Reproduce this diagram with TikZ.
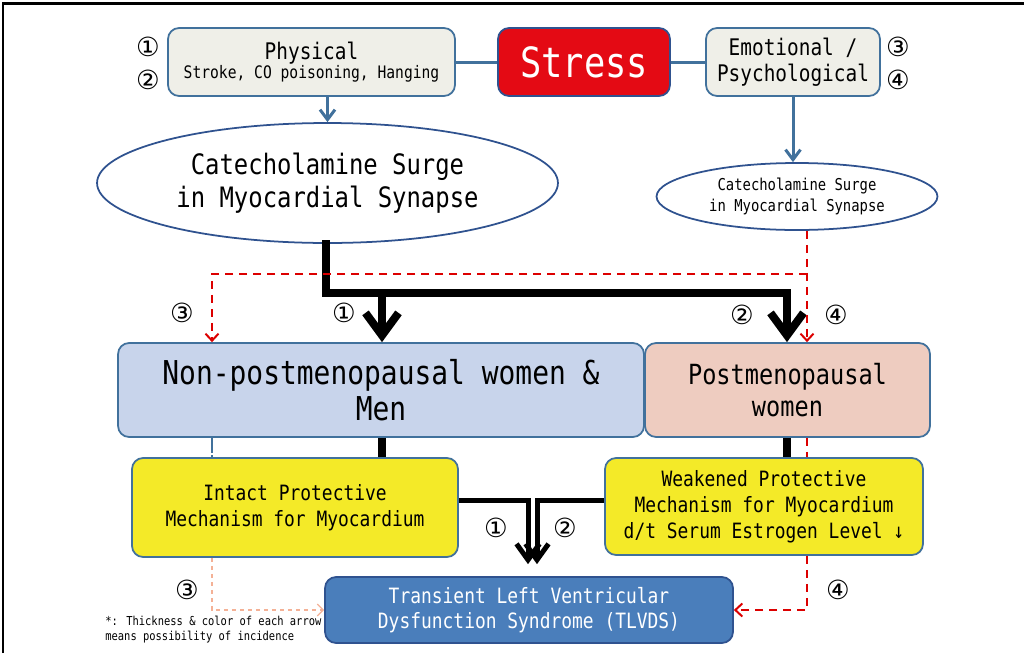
\documentclass[tikz,border=0pt]{standalone}
\usepackage{fontspec}
\usepackage{xcolor}
\usepackage{tikz}
\usetikzlibrary{shapes,arrows,positioning,calc,arrows.meta}

\newfontfamily\gothic[FakeStretch=0.85]{DejaVu Sans Mono}
\newfontfamily\circfont{DejaVu Sans}

\definecolor{boxline}{RGB}{65,113,156}
\definecolor{ellline}{RGB}{47,82,143}
\definecolor{greyfill}{RGB}{239,239,232}
\definecolor{stressred}{RGB}{228,10,20}
\definecolor{nonfill}{RGB}{200,212,235}
\definecolor{postfill}{RGB}{238,204,192}
\definecolor{protyellow}{RGB}{244,234,40}
\definecolor{tlvdsblue}{RGB}{74,126,187}
\definecolor{routered}{RGB}{220,0,0}
\definecolor{routesalmon}{RGB}{244,177,150}

\tikzset{
  box/.style={draw=boxline, line width=1pt, rounded corners=0.22cm, align=center, inner sep=0pt},
  surge/.style={ellipse, draw=ellline, line width=1pt, fill=white, align=center, inner sep=0pt},
  numlbl/.style={font=\circfont\fontsize{15}{15}\selectfont, inner sep=0pt},
  blueline/.style={draw=boxline, line width=0.06cm},
  bluearrow/.style={blueline, -{Straight Barb[length=0.2cm,width=0.3cm]}},
  fatline/.style={line width=0.16cm, line cap=rect},
  fatarrow/.style={line width=0.16cm, -{Straight Barb[length=0.45cm,width=0.66cm]}},
  midarrow/.style={line width=0.1cm, -{Straight Barb[length=0.32cm,width=0.46cm]}},
  reddash/.style={draw=routered, line width=0.04cm, dash pattern=on 0.16cm off 0.12cm},
  redarrow/.style={reddash, -{Straight Barb[length=0.14cm,width=0.26cm]}},
  salmonarrow/.style={draw=routesalmon, line width=0.025cm, dash pattern=on 0.09cm off 0.07cm, -{Straight Barb[length=0.12cm,width=0.24cm]}},
}

\begin{document}
\begin{tikzpicture}[x=0.02cm, y=-0.02cm]
    \useasboundingbox (0,0) rectangle (1024,653);
    % frame
    \draw[line width=0.06cm] (3,653) -- (3,3) -- (1024,3);

    % Stress and its two kinds
    \node[box, fill=greyfill, minimum width=5.74cm, minimum height=1.36cm] (phys) at (311.5,62)
        {\gothic\fontsize{13}{15}\selectfont Physical\\[-1pt]{\gothic\fontsize{9.8}{11}\selectfont Stroke, CO poisoning, Hanging}};
    \node[box, fill=stressred, draw=ellline, minimum width=3.44cm, minimum height=1.36cm,
          text=white, font=\gothic\fontsize{23.7}{26}\selectfont] (stress) at (584,62) {Stress};
    \node[box, fill=greyfill, minimum width=3.48cm, minimum height=1.36cm,
          font=\gothic\fontsize{13}{14.8}\selectfont] (emo) at (793,62) {Emotional /\\Psychological};
    \draw[blueline] (phys) -- (stress);
    \draw[blueline] (stress) -- (emo);

    % Catecholamine surge
    \node[surge, minimum width=9.22cm, minimum height=2.4cm,
          font=\gothic\fontsize{16}{18.8}\selectfont] (bigsurge) at (327.5,183)
        {Catecholamine Surge\\in Myocardial Synapse};
    \node[surge, minimum width=5.62cm, minimum height=1.34cm,
          font=\gothic\fontsize{9.3}{12}\selectfont] (smallsurge) at (797,196.5)
        {Catecholamine Surge\\in Myocardial Synapse};
    \draw[bluearrow] (bigsurge.north |- phys.south) -- (bigsurge.north);
    \draw[bluearrow] (emo.south) -- (emo.south |- smallsurge.north);

    % Patient groups
    \node[box, fill=nonfill, minimum width=10.52cm, minimum height=1.88cm,
          font=\gothic\fontsize{18.7}{20.5}\selectfont] (nonpost) at (381,390)
        {Non-postmenopausal women \&\\Men};
    \node[box, fill=postfill, minimum width=5.7cm, minimum height=1.88cm,
          font=\gothic\fontsize{15.8}{18.2}\selectfont] (post) at (787.5,390)
        {Postmenopausal\\women};

    % Protective mechanism
    \node[box, fill=protyellow, minimum width=6.52cm, minimum height=1.98cm,
          font=\gothic\fontsize{12}{14.8}\selectfont] (intact) at (295,507.5)
        {Intact Protective\\Mechanism for Myocardium};
    \node[box, fill=protyellow, minimum width=6.36cm, minimum height=1.94cm,
          font=\gothic\fontsize{12}{14.8}\selectfont] (weak) at (764,506.5)
        {Weakened Protective\\Mechanism for Myocardium\\d/t Serum Estrogen Level ↓};

    % TLVDS
    \node[box, fill=tlvdsblue, draw=ellline, minimum width=8.16cm, minimum height=1.32cm, text=white,
          font=\gothic\fontsize{12}{14.2}\selectfont] (tlvds) at (529,610)
        {Transient Left Ventricular\\Dysfunction Syndrome (TLVDS)};

    % routes 1 and 2
    \coordinate (jl) at (326,293);
    \coordinate (jm) at (382,293);
    \coordinate (jr) at (787,293);
    \draw[fatline] (jl |- bigsurge.south) -- (jl) -- (jr);
    \draw[fatarrow] (jm) -- (jm |- nonpost.north);
    \draw[fatarrow] (jr) -- (jr |- post.north);
    \draw[fatline, line cap=butt] (jm |- nonpost.south) -- (jm |- intact.north);
    \draw[fatline, line cap=butt] (jr |- post.south) -- (jr |- weak.north);
    \coordinate (dl) at (528,500);
    \coordinate (dr) at (537,500);
    \draw[midarrow, shorten >=0.24cm] (intact.east |- dl) -- (dl) -- (dl |- tlvds.north);
    \draw[midarrow, shorten >=0.24cm] (weak.west |- dr) -- (dr) -- (dr |- tlvds.north);

    % routes 3 and 4
    \coordinate (rk) at (807,274);
    \coordinate (rl) at (212,274);
    \draw[redarrow] (rk |- smallsurge.south) -- (rk |- post.north);
    \draw[redarrow] (rk) -- (rl) -- (rl |- nonpost.north);
    \draw[draw=boxline, line width=0.03cm, dash pattern=on 0.3cm off 0.05cm] (rl |- nonpost.south) -- (rl |- intact.north);
    \draw[salmonarrow] (rl |- intact.south) |- (tlvds.west);
    \draw[reddash] (rk |- post.south) -- (rk |- weak.north);
    \draw[redarrow] (rk |- weak.south) |- (tlvds.east);

    % route numbers
    \foreach \x/\y/\t [count=\i] in {148/47/①, 148/80/②, 898/47/③, 898/80/④,
        182/313/③, 344/313/①, 742/315/②, 836/315/④,
        496/528/①, 565/528/②, 187/590/③, 838/590/④}
      \node[numlbl] (num\i) at (\x,\y) {\t};

    % footnote
    \node[anchor=west, align=left, inner sep=0pt, font=\gothic\fontsize{7}{8.5}\selectfont] (note) at (105,630)
        {*: Thickness \& color of each arrow\\means possibility of incidence};
\end{tikzpicture}
\end{document}
